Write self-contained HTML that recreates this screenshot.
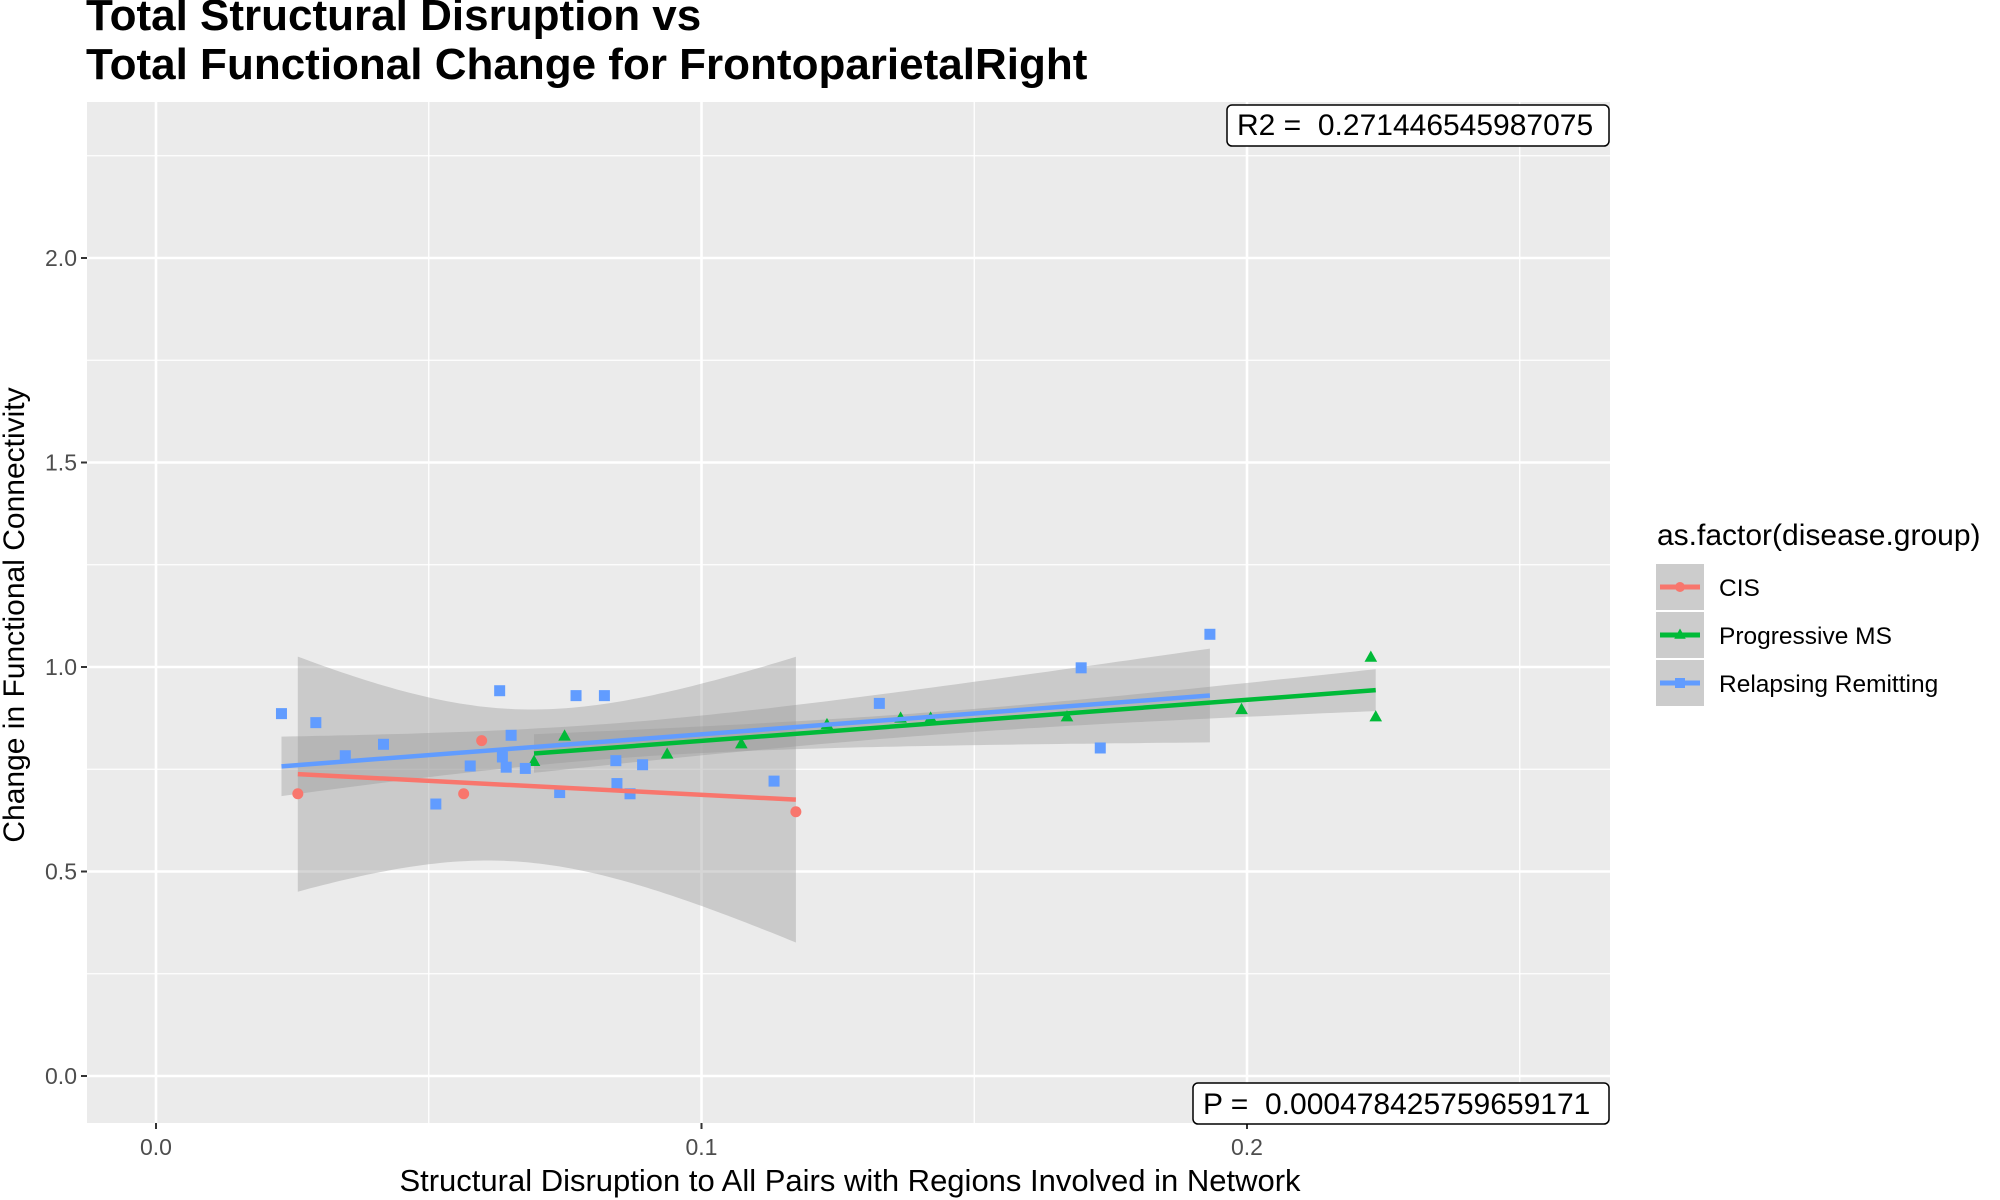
<!DOCTYPE html>
<html><head><meta charset="utf-8"><style>
html,body{margin:0;padding:0;background:#fff;}
svg{display:block;font-family:"Liberation Sans",sans-serif;}
</style></head><body>
<svg id="chart" width="2000" height="1200" xmlns="http://www.w3.org/2000/svg">
<text x="86" y="30" font-size="44" font-weight="bold" fill="#000">Total Structural Disruption vs</text>
<text x="86" y="79" font-size="44" font-weight="bold" fill="#000">Total Functional Change for FrontoparietalRight</text>
<rect x="87" y="102" width="1523" height="1021" fill="#EBEBEB"/>
<g id="grid"></g>
<g id="ribbons"></g>
<g id="points"></g>
<g id="lines"></g>
<g id="axes"></g>
<g>
<rect x="1227" y="105" width="382" height="41" rx="5" fill="#fff" stroke="#000" stroke-width="1.5"/>
<text x="1237" y="135" font-size="30" fill="#000">R2 =&#160; 0.271446545987075</text>
</g>
<g>
<rect x="1193" y="1083" width="416" height="41" rx="5" fill="#fff" stroke="#000" stroke-width="1.5"/>
<text x="1203" y="1114" font-size="30" fill="#000">P =&#160; 0.000478425759659171</text>
</g>
<text x="850" y="1191" font-size="31" text-anchor="middle" fill="#000">Structural Disruption to All Pairs with Regions Involved in Network</text>
<text transform="translate(24,615) rotate(-90)" font-size="30" text-anchor="middle" fill="#000">Change in Functional Connectivity</text>
<g>
<text x="1657" y="545" font-size="30" fill="#000">as.factor(disease.group)</text>
<g id="legend-entries"></g>
</g>
</svg>
<script>
const groups = ["CIS", "Progressive MS", "Relapsing Remitting"];
const colors = ["#F8766D", "#00BA38", "#619CFF"];
const cisX = [0.026, 0.0564, 0.0597, 0.1173];
const cisY = [0.69, 0.69, 0.82, 0.646];
const pmsX = [0.0693, 0.0749, 0.0937, 0.1073, 0.123, 0.1365, 0.142, 0.167, 0.199, 0.2227, 0.2236];
const pmsY = [0.768, 0.83, 0.786, 0.811, 0.858, 0.874, 0.874, 0.877, 0.895, 1.023, 0.877];
const rrX = [0.023, 0.0293, 0.0347, 0.0417, 0.0513, 0.0576, 0.063, 0.0635, 0.0642, 0.0651, 0.0677, 0.074, 0.077, 0.0822, 0.0843, 0.0845, 0.0869, 0.0892, 0.1133, 0.1326, 0.1696, 0.1731, 0.1932];
const rrY = [0.886, 0.864, 0.783, 0.811, 0.665, 0.758, 0.942, 0.78, 0.755, 0.833, 0.752, 0.693, 0.93, 0.93, 0.771, 0.715, 0.69, 0.761, 0.721, 0.911, 0.998, 0.802, 1.08];
const xTicks = [0, 0.1, 0.2];
const xTickLabels = ["0.0", "0.1", "0.2"];
const yTicks = [0, 0.5, 1.0, 1.5, 2.0];
const yTickLabels = ["0.0", "0.5", "1.0", "1.5", "2.0"];
const xMinor = [0.05, 0.15, 0.25];
const yMinor = [0.25, 0.75, 1.25, 1.75, 2.25];

const NS = "http://www.w3.org/2000/svg";
const PL = 87, PR = 1610, PT = 102, PB = 1123;
function sx(v) { return 156 + v * 5455; }
function sy(v) { return 1076 - v * 409; }
function mk(tag, attrs, parent) {
  const e = document.createElementNS(NS, tag);
  for (const k in attrs) e.setAttribute(k, attrs[k]);
  parent.appendChild(e);
  return e;
}
const grid = document.getElementById("grid");
xMinor.forEach(v => {
  const l = mk("line", {x1: sx(v), x2: sx(v), y1: PT, y2: PB, stroke: "#fff", "stroke-width": 1.3}, grid);
  
  
});
yMinor.forEach(v => {
  const l = mk("line", {x1: PL, x2: PR, y1: sy(v), y2: sy(v), stroke: "#fff", "stroke-width": 1.3}, grid);
  
  
});
xTicks.forEach(v => {
  const l = mk("line", {x1: sx(v), x2: sx(v), y1: PT, y2: PB, stroke: "#fff", "stroke-width": 2.6}, grid);
  
  
});
yTicks.forEach(v => {
  const l = mk("line", {x1: PL, x2: PR, y1: sy(v), y2: sy(v), stroke: "#fff", "stroke-width": 2.6}, grid);
  
  
});
const axes = document.getElementById("axes");
xTicks.forEach((v, i) => {
  mk("line", {x1: sx(v), x2: sx(v), y1: PB, y2: PB + 6, stroke: "#333", "stroke-width": 2}, axes);
  const t = mk("text", {x: sx(v), y: PB + 32, "font-size": 23, fill: "#4D4D4D", "text-anchor": "middle"}, axes);
  t.textContent = xTickLabels[i];
  
  
});
yTicks.forEach((v, i) => {
  mk("line", {x1: PL - 6, x2: PL, y1: sy(v), y2: sy(v), stroke: "#333", "stroke-width": 2}, axes);
  const t = mk("text", {x: PL - 10, y: sy(v) + 8, "font-size": 23, fill: "#4D4D4D", "text-anchor": "end"}, axes);
  t.textContent = yTickLabels[i];
  
  
});
const tq = {2: 4.303, 9: 2.262, 21: 2.080};
function fit(X, Y) {
  const n = X.length;
  const mx = X.reduce((a, b) => a + b) / n, my = Y.reduce((a, b) => a + b) / n;
  let sxx = 0, sxy = 0;
  X.forEach((x, i) => { sxx += (x - mx) ** 2; sxy += (x - mx) * (Y[i] - my); });
  const b = sxy / sxx, a = my - b * mx;
  let sse = 0;
  X.forEach((x, i) => { sse += (Y[i] - a - b * x) ** 2; });
  const s = Math.sqrt(sse / (n - 2));
  return {a, b, s, n, mx, sxx, t: tq[n - 2] || 2.1, lo: Math.min(...X), hi: Math.max(...X)};
}
const data = [[cisX, cisY], [pmsX, pmsY], [rrX, rrY]];
const fits = data.map(d => fit(d[0], d[1]));
const rib = document.getElementById("ribbons");
fits.forEach((f, gi) => {
  const N = 80, up = [], dn = [];
  for (let k = 0; k <= N; k++) {
    const x = f.lo + (f.hi - f.lo) * k / N;
    const yh = f.a + f.b * x;
    const se = f.s * Math.sqrt(1 / f.n + (x - f.mx) ** 2 / f.sxx);
    up.push(sx(x).toFixed(1) + "," + sy(yh + f.t * se).toFixed(1));
    dn.unshift(sx(x).toFixed(1) + "," + sy(yh - f.t * se).toFixed(1));
  }
  const p = mk("polygon", {points: up.concat(dn).join(" "), fill: "#999999", "fill-opacity": 0.4}, rib);
  
  
});
const pts = document.getElementById("points");
function marker(gi, cx, cy, parent, r) {
  let e;
  if (gi === 0) e = mk("circle", {cx: cx, cy: cy, r: r, fill: colors[0]}, parent);
  else if (gi === 1) e = mk("polygon", {points: `${cx},${cy - r * 1.3} ${cx - r * 1.15},${cy + r * 0.75} ${cx + r * 1.15},${cy + r * 0.75}`, fill: colors[1]}, parent);
  else e = mk("rect", {x: cx - r, y: cy - r, width: 2 * r, height: 2 * r, fill: colors[2]}, parent);
  return e;
}
data.forEach((d, gi) => {
  d[0].forEach((x, i) => {
    const e = marker(gi, sx(x), sy(d[1][i]), pts, 5.5);
    
    
  });
});
const lines = document.getElementById("lines");
fits.forEach((f, gi) => {
  const l = mk("line", {x1: sx(f.lo), y1: sy(f.a + f.b * f.lo), x2: sx(f.hi), y2: sy(f.a + f.b * f.hi), stroke: colors[gi], "stroke-width": 4.5}, lines);
  
  
});
const leg = document.getElementById("legend-entries");
groups.forEach((g, gi) => {
  const y0 = 564 + gi * 48;
  const grp = mk("g", {}, leg);
  
  
  mk("rect", {x: 1656, y: y0, width: 48, height: 46, fill: "#CCCCCC"}, grp);
  mk("line", {x1: 1660, x2: 1700, y1: y0 + 23, y2: y0 + 23, stroke: colors[gi], "stroke-width": 5}, grp);
  marker(gi, 1680, y0 + 23, grp, 5);
  const t = mk("text", {x: 1719, y: y0 + 32, "font-size": 24.5, fill: "#000"}, grp);
  t.textContent = g;
});
</script>
</body></html>
